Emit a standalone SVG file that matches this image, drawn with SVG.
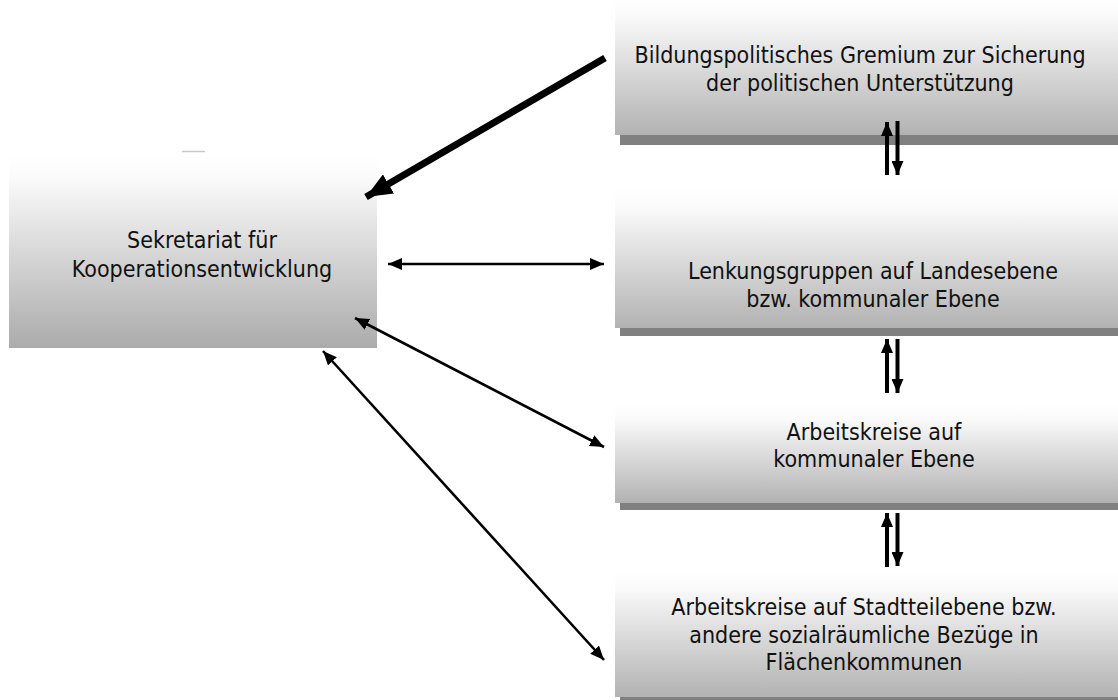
<svg xmlns="http://www.w3.org/2000/svg" width="1118" height="700" viewBox="0 0 1118 700">
  <defs>
    <linearGradient id="boxFill" x1="0" y1="0" x2="0" y2="1">
      <stop offset="0" stop-color="#ffffff"/>
      <stop offset="0.12" stop-color="#fbfbfb"/>
      <stop offset="1" stop-color="#ababab"/>
    </linearGradient>
    <linearGradient id="boxFillWide" x1="0" y1="0" x2="0" y2="1">
      <stop offset="0" stop-color="#ffffff"/>
      <stop offset="0.15" stop-color="#fafafa"/>
      <stop offset="1" stop-color="#b2b2b2"/>
    </linearGradient>
    <marker id="headThin" markerUnits="userSpaceOnUse" viewBox="0 0 14 12" refX="14" refY="6" markerWidth="14" markerHeight="12" orient="auto-start-reverse">
      <path d="M0,0 L14,6 L0,12 z" fill="#000"/>
    </marker>
    <marker id="headPair" markerUnits="userSpaceOnUse" viewBox="0 0 14 12" refX="14" refY="6" markerWidth="14" markerHeight="12" orient="auto">
      <path d="M0,0 L14,6 L0,12 z" fill="#000"/>
    </marker>
    <marker id="headBold" markerUnits="userSpaceOnUse" viewBox="0 0 26 22" refX="26" refY="11" markerWidth="26" markerHeight="22" orient="auto">
      <path d="M0,0 L26,11 L0,22 z" fill="#000"/>
    </marker>
  </defs>
  <style>
    .box { stroke: none; }
    .shadow { fill: #808080; }
    .label { font-family: "DejaVu Sans", "Liberation Sans", sans-serif; font-stretch: condensed; font-size: 23px; fill: #111; text-anchor: middle; }
    .conn { stroke: #000; fill: none; }
    .thin { stroke-width: 2.6; marker-start: url(#headThin); marker-end: url(#headThin); }
    .pair { stroke-width: 4; marker-end: url(#headPair); }
  </style>

  <rect width="1118" height="700" fill="#ffffff"/>

  <!-- left node -->
  <g id="sekretariat">
    <line x1="182" y1="151.5" x2="205" y2="151.5" stroke="#c8c8c8" stroke-width="1.5"/>
    <rect class="box" x="9" y="153" width="368" height="195" fill="url(#boxFill)"/>
    <text class="label" x="202" y="248">Sekretariat für</text>
    <text class="label" x="202" y="277">Kooperationsentwicklung</text>
  </g>

  <!-- right column -->
  <g id="gremium">
    <rect class="shadow" x="620" y="135" width="510" height="10"/>
    <rect class="box" x="615" y="-5" width="510" height="140" fill="url(#boxFillWide)"/>
    <text class="label" x="860" y="63">Bildungspolitisches Gremium zur Sicherung</text>
    <text class="label" x="860" y="91">der politischen Unterstützung</text>
  </g>

  <g id="lenkungsgruppen">
    <rect class="shadow" x="620" y="328" width="510" height="8"/>
    <rect class="box" x="615" y="187" width="510" height="141" fill="url(#boxFillWide)"/>
    <text class="label" x="873" y="279">Lenkungsgruppen auf Landesebene</text>
    <text class="label" x="873" y="307">bzw. kommunaler Ebene</text>
  </g>

  <g id="arbeitskreise-kommunal">
    <rect class="shadow" x="620" y="503" width="510" height="7"/>
    <rect class="box" x="615" y="404" width="510" height="99" fill="url(#boxFillWide)"/>
    <text class="label" x="874" y="440">Arbeitskreise auf</text>
    <text class="label" x="874" y="467">kommunaler Ebene</text>
  </g>

  <g id="arbeitskreise-stadtteil">
    <rect class="shadow" x="620" y="697" width="510" height="8"/>
    <rect class="box" x="615" y="569" width="510" height="128" fill="url(#boxFillWide)"/>
    <text class="label" x="864" y="615">Arbeitskreise auf Stadtteilebene bzw.</text>
    <text class="label" x="864" y="643">andere sozialräumliche Bezüge in</text>
    <text class="label" x="864" y="670">Flächenkommunen</text>
  </g>

  <!-- connectors -->
  <g id="connectors">
    <line class="conn" x1="605" y1="58" x2="366" y2="197" stroke-width="7" marker-end="url(#headBold)"/>
    <line class="conn thin" x1="388" y1="264" x2="604" y2="264"/>
    <line class="conn thin" x1="355" y1="318" x2="604" y2="447" stroke-width="3"/>
    <line class="conn thin" x1="323" y1="351" x2="604" y2="660"/>

    <line class="conn pair" x1="887" y1="175" x2="887" y2="122"/>
    <line class="conn pair" x1="897.5" y1="121" x2="897.5" y2="175"/>

    <line class="conn pair" x1="887" y1="393" x2="887" y2="339"/>
    <line class="conn pair" x1="897.5" y1="339" x2="897.5" y2="393"/>

    <line class="conn pair" x1="887" y1="567" x2="887" y2="513"/>
    <line class="conn pair" x1="897.5" y1="513" x2="897.5" y2="566"/>
  </g>
</svg>
